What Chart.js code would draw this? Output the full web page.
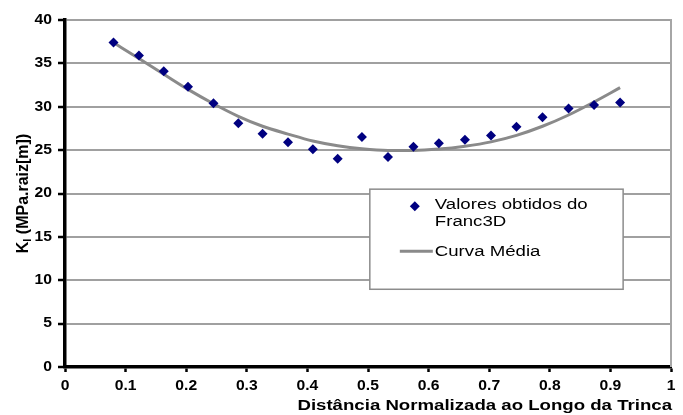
<!DOCTYPE html>
<html>
<head>
<meta charset="utf-8">
<script src="https://cdn.jsdelivr.net/npm/chart.js@4.4.0/dist/chart.umd.min.js"></script>
<style>
  html, body { margin: 0; padding: 0; background: #fff; }
</style>
</head>
<body>
<canvas id="grafico" width="683" height="415"></canvas>
<script>
// posicoes ao longo da trinca (normalizadas)
const distancia = [0.080, 0.122, 0.163, 0.203, 0.245, 0.286, 0.326, 0.368, 0.409, 0.450, 0.490,
                   0.533, 0.575, 0.617, 0.660, 0.703, 0.745, 0.788, 0.831, 0.873, 0.916];
// KI obtido do Franc3D
const valoresFranc3D = [37.4, 35.9, 34.1, 32.3, 30.4, 28.1, 26.9, 25.9, 25.1, 24.0, 26.5,
                        24.2, 25.4, 25.8, 26.2, 26.7, 27.7, 28.8, 29.8, 30.2, 30.5];
// curva media
const curvaMedia = [37.4, 35.55, 33.75, 32.0, 30.35, 28.9, 27.75, 26.85, 26.05, 25.5, 25.15,
                    24.97, 24.97, 25.12, 25.45, 25.95, 26.7, 27.75, 29.05, 30.55, 32.2];

const ticksX = [0, 0.1, 0.2, 0.3, 0.4, 0.5, 0.6, 0.7, 0.8, 0.9, 1];
const labelsX = ['0', '0.1', '0.2', '0.3', '0.4', '0.5', '0.6', '0.7', '0.8', '0.9', '1'];
const ticksY = [0, 5, 10, 15, 20, 25, 30, 35, 40];
const labelsY = ['0', '5', '10', '15', '20', '25', '30', '35', '40'];

const fonte = '"Liberation Sans", Arial, sans-serif';

function textoLargo(ctx, txt, x, y, font, sx, align) {
    ctx.save();
    ctx.font = font;
    ctx.fillStyle = '#000';
    ctx.textBaseline = 'middle';
    ctx.textAlign = align;
    ctx.translate(x, y);
    ctx.scale(sx, 1);
    ctx.fillText(txt, 0, 0);
    ctx.restore();
}

// moldura da direita, legenda, rotulos e titulos
const extras = {
    id: 'extras',
    beforeDatasetsDraw(chart) {
        const {ctx, chartArea} = chart;
        ctx.save();
        ctx.strokeStyle = '#a6a6a6';
        ctx.lineWidth = 2;
        ctx.beginPath();
        ctx.moveTo(chartArea.right, chartArea.top - 1);
        ctx.lineTo(chartArea.right, chartArea.bottom);
        ctx.stroke();
        ctx.restore();
    },
    afterDraw(chart) {
        const {ctx, chartArea, scales: {x, y}} = chart;

        // rotulos dos eixos
        const fTick = 'bold 14px ' + fonte;
        ticksX.forEach((v, i) => {
            textoLargo(ctx, labelsX[i], x.getPixelForValue(v), 386, fTick, 1.12, 'center');
        });
        ticksY.forEach((v, i) => {
            textoLargo(ctx, labelsY[i], chartArea.left - 13, y.getPixelForValue(v), fTick, 1.12, 'right');
        });

        // legenda
        const left = x.getPixelForValue(0.503), right = x.getPixelForValue(0.921);
        const top = y.getPixelForValue(20.5), bottom = y.getPixelForValue(8.96);
        ctx.save();
        ctx.fillStyle = '#fff';
        ctx.fillRect(left, top, right - left, bottom - top);
        ctx.strokeStyle = '#8c8c8c';
        ctx.lineWidth = 1.5;
        ctx.strokeRect(left, top, right - left, bottom - top);

        ctx.fillStyle = '#000080';
        ctx.beginPath();
        ctx.moveTo(left + 45, top + 12);
        ctx.lineTo(left + 50, top + 17);
        ctx.lineTo(left + 45, top + 22);
        ctx.lineTo(left + 40, top + 17);
        ctx.closePath();
        ctx.fill();

        ctx.strokeStyle = '#8a8a8a';
        ctx.lineWidth = 3;
        ctx.beginPath();
        ctx.moveTo(left + 30, top + 62);
        ctx.lineTo(left + 63, top + 62);
        ctx.stroke();
        ctx.restore();

        textoLargo(ctx, 'Valores obtidos do', left + 65, top + 16, '14px ' + fonte, 1.33, 'left');
        textoLargo(ctx, 'Franc3D', left + 65, top + 33, '14px ' + fonte, 1.33, 'left');
        textoLargo(ctx, 'Curva Média', left + 65, top + 63, '14px ' + fonte, 1.33, 'left');

        // titulo do eixo x
        textoLargo(ctx, 'Distância Normalizada ao Longo da Trinca', chartArea.right + 1, 406,
                   'bold 14px ' + fonte, 1.33, 'right');

        // titulo do eixo y, com subscrito
        ctx.save();
        ctx.fillStyle = '#000';
        ctx.textBaseline = 'alphabetic';
        ctx.textAlign = 'left';
        ctx.translate(28, (chartArea.top + chartArea.bottom) / 2);
        ctx.rotate(-Math.PI / 2);
        const fK = 'bold 16px ' + fonte, fI = 'bold 11px ' + fonte;
        ctx.font = fK;
        const wK = ctx.measureText('K').width;
        const wR = ctx.measureText(' (MPa.raiz[m])').width;
        ctx.font = fI;
        const wI = ctx.measureText('I').width;
        let px = -(wK + wI + wR) / 2;
        ctx.font = fK;
        ctx.fillText('K', px, 0);
        px += wK;
        ctx.font = fI;
        ctx.fillText('I', px, 3);
        px += wI;
        ctx.font = fK;
        ctx.fillText(' (MPa.raiz[m])', px, 0);
        ctx.restore();
    }
};

new Chart(document.getElementById('grafico'), {
    type: 'scatter',
    data: {
        datasets: [{
            label: 'Valores obtidos do Franc3D',
            data: distancia.map((d, i) => ({x: d, y: valoresFranc3D[i]})),
            pointStyle: 'rectRot',
            pointRadius: 5,
            backgroundColor: '#000080',
            borderColor: '#000080',
            borderWidth: 0
        }, {
            label: 'Curva Média',
            data: distancia.map((d, i) => ({x: d, y: curvaMedia[i]})),
            showLine: true,
            pointRadius: 0,
            borderColor: '#8a8a8a',
            borderWidth: 3,
            cubicInterpolationMode: 'monotone'
        }]
    },
    options: {
        responsive: false,
        devicePixelRatio: 1,
        animation: false,
        layout: {padding: {top: 20, right: 12, left: 0, bottom: 0}},
        plugins: {legend: {display: false}, tooltip: {enabled: false}},
        scales: {
            x: {
                type: 'linear',
                min: 0, max: 1,
                afterBuildTicks: s => { s.ticks = ticksX.map(v => ({value: v})); },
                afterFit: s => { s.height = 48; },
                ticks: {display: false},
                grid: {drawOnChartArea: false, drawTicks: true, tickLength: 5, tickColor: '#000', tickWidth: 2.5},
                border: {color: '#000', width: 3.5}
            },
            y: {
                min: 0, max: 40,
                afterBuildTicks: s => { s.ticks = ticksY.map(v => ({value: v})); },
                afterFit: s => { s.width = 65; },
                ticks: {display: false},
                grid: {color: '#a0a0a0', lineWidth: 2, tickLength: 7, tickColor: '#000', tickWidth: 2.5},
                border: {color: '#000', width: 3.5}
            }
        }
    },
    plugins: [extras]
});
</script>
</body>
</html>
